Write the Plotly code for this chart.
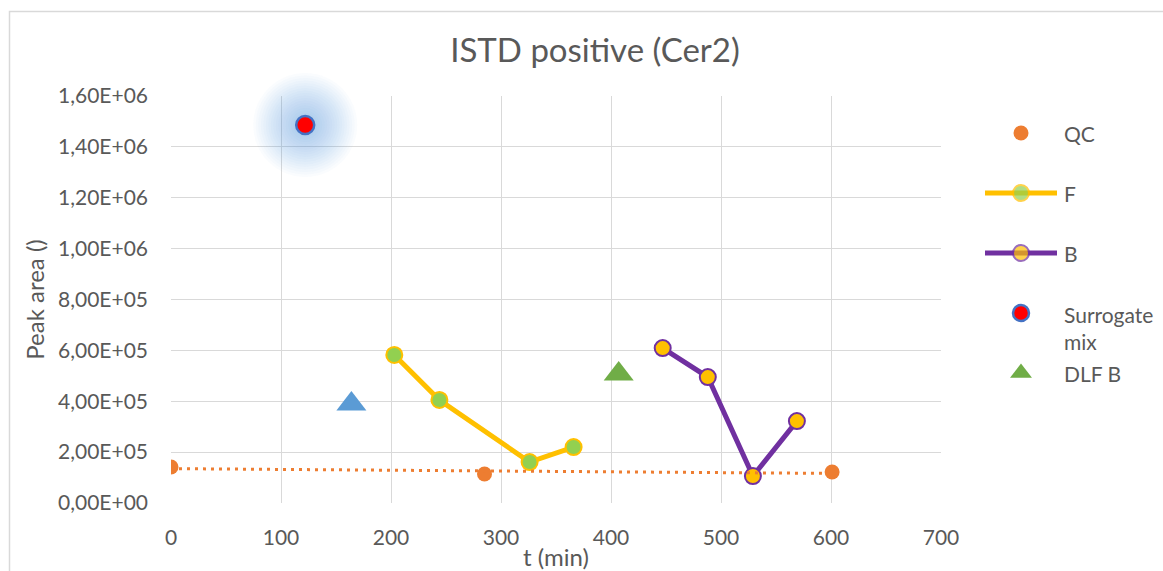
import numpy as np
import plotly.graph_objects as go

# ---- data -------------------------------------------------------------
qc_t = [0, 285, 601]
qc_area = [141500, 114000, 122000]

f_t = [203, 244, 326, 366]
f_area = [582000, 405000, 161000, 220000]

b_t = [447, 488, 529, 569]
b_area = [609000, 495000, 106000, 322000]

surrogate_t = [122]
surrogate_area = [1486000]

dlf_b_t = [407]
dlf_b_area = [507000]

dlf_f_t = [164]
dlf_f_area = [389000]

y_tickvals = [0, 200000, 400000, 600000, 800000, 1000000, 1200000, 1400000, 1600000]
y_ticktext = ["0,00E+00", "2,00E+05", "4,00E+05", "6,00E+05", "8,00E+05",
              "1,00E+06", "1,20E+06", "1,40E+06", "1,60E+06"]
x_tickvals = [0, 100, 200, 300, 400, 500, 600, 700]

legend_names = ["QC", "F", "B", "Surrogate<br>mix", "DLF B"]

# ---- styling ----------------------------------------------------------
FONT = "Lato"
TXT = "#595959"
GRID = "#d9d9d9"
ORANGE = "#ED7D31"
GOLD = "#FFC000"
LGREEN = "#92D050"
PURPLE = "#7030A0"
RED = "#FF0000"
BLUE = "#4472C4"
GLOW = "#5B9BD5"
GREEN = "#70AD47"

W, H = 1163, 571
ML, MR, MT, MB = 171, 0, 96, 68
PW = W - ML - MR
PLOT_RIGHT = 941
LEG_LEFT = 945

fig = go.Figure()

# QC samples
fig.add_trace(go.Scatter(x=qc_t, y=qc_area, mode="markers", name="QC",
                         marker=dict(color=ORANGE, size=15, line=dict(width=0)),
                         showlegend=False))

# F series
fig.add_trace(go.Scatter(x=f_t, y=f_area, mode="lines+markers", name="F",
                         line=dict(color=GOLD, width=5),
                         marker=dict(color=LGREEN, size=16, line=dict(color=GOLD, width=2)),
                         showlegend=False))

# B series
fig.add_trace(go.Scatter(x=b_t, y=b_area, mode="lines+markers", name="B",
                         line=dict(color=PURPLE, width=5),
                         marker=dict(color=GOLD, size=16, line=dict(color=PURPLE, width=2)),
                         showlegend=False))

# soft glow behind the surrogate mix point (stacked translucent discs)
for s in range(104, 18, -5):
    fig.add_trace(go.Scatter(x=surrogate_t, y=surrogate_area, mode="markers",
                             marker=dict(color=GLOW, size=s, opacity=0.028, line=dict(width=0)),
                             cliponaxis=False, hoverinfo="skip", showlegend=False))

fig.add_trace(go.Scatter(x=surrogate_t, y=surrogate_area, mode="markers", name="Surrogate mix",
                         marker=dict(color=RED, size=18, line=dict(color=BLUE, width=2.5)),
                         cliponaxis=False, showlegend=False))

# DLF points
fig.add_trace(go.Scatter(x=dlf_f_t, y=dlf_f_area, mode="markers", name="DLF F",
                         marker=dict(color=GLOW, size=26, symbol="triangle-up", line=dict(width=0)),
                         showlegend=False))
fig.add_trace(go.Scatter(x=dlf_b_t, y=dlf_b_area, mode="markers", name="DLF B",
                         marker=dict(color=GREEN, size=26, symbol="triangle-up", line=dict(width=0)),
                         showlegend=False))

# linear trend of QC
slope, icpt = np.polyfit(qc_t, qc_area, 1)
trend_x = np.array([min(qc_t), max(qc_t)])
fig.add_trace(go.Scatter(x=trend_x, y=icpt + slope * trend_x, mode="lines",
                         line=dict(color=ORANGE, width=3, dash="3px,5px"),
                         hoverinfo="skip", showlegend=False))

# ---- hand-built legend on a pixel-scaled overlay axis -------------------
leg_y = [133, 193, 253, 313, 373]
key_x = 1021
seg = (985, 1057)
text_x = 1062

fig.add_trace(go.Scatter(x=[key_x], y=[leg_y[0]], xaxis="x2", yaxis="y2", mode="markers",
                         marker=dict(color=ORANGE, size=15), hoverinfo="skip", showlegend=False))
fig.add_trace(go.Scatter(x=[seg[0], key_x, seg[1]], y=[leg_y[1]] * 3, xaxis="x2", yaxis="y2",
                         mode="lines+markers", line=dict(color=GOLD, width=5),
                         marker=dict(color=LGREEN, size=[0, 16, 0], line=dict(color=GOLD, width=[0, 2, 0])),
                         hoverinfo="skip", showlegend=False))
fig.add_trace(go.Scatter(x=[seg[0], key_x, seg[1]], y=[leg_y[2]] * 3, xaxis="x2", yaxis="y2",
                         mode="lines+markers", line=dict(color=PURPLE, width=5),
                         marker=dict(color=GOLD, size=[0, 16, 0], line=dict(color=PURPLE, width=[0, 2, 0])),
                         hoverinfo="skip", showlegend=False))
fig.add_trace(go.Scatter(x=[key_x], y=[leg_y[3]], xaxis="x2", yaxis="y2", mode="markers",
                         marker=dict(color=RED, size=16, line=dict(color=BLUE, width=2.5)),
                         hoverinfo="skip", showlegend=False))
fig.add_trace(go.Scatter(x=[key_x], y=[leg_y[4]], xaxis="x2", yaxis="y2", mode="markers",
                         marker=dict(color=GREEN, size=19, symbol="triangle-up"),
                         hoverinfo="skip", showlegend=False))

annotations = []
for name, yy in zip(legend_names, leg_y):
    annotations.append(dict(x=text_x, y=yy, xref="x2", yref="y2", text=name, showarrow=False,
                            xanchor="left", yanchor="top" if "<br>" in name else "middle",
                            yshift=13 if "<br>" in name else 0, align="left",
                            font=dict(family=FONT, size=21, color=TXT)))

fig.update_layout(
    width=W, height=H, autosize=False,
    margin=dict(l=ML, r=MR, t=MT, b=MB, pad=0, autoexpand=False),
    paper_bgcolor="white", plot_bgcolor="white",
    font=dict(family=FONT, color=TXT),
    title=dict(text="ISTD positive (Cer2)", x=595 / W, xref="container", xanchor="center",
               y=1 - 50 / H, yref="container", yanchor="middle",
               font=dict(family=FONT, size=33, color=TXT)),
    xaxis=dict(domain=[0, (PLOT_RIGHT - ML) / PW], range=[0, 700], tickvals=x_tickvals,
               showgrid=True, gridcolor=GRID, gridwidth=1, zeroline=False,
               showline=False, ticks="", ticklabelstandoff=20, automargin=False,
               tickfont=dict(family=FONT, size=21, color=TXT),
               title=dict(text="t (min)", standoff=4, font=dict(family=FONT, size=24, color=TXT))),
    yaxis=dict(range=[0, 1600000], tickvals=y_tickvals, ticktext=y_ticktext,
               showgrid=True, gridcolor=GRID, gridwidth=1, zeroline=False,
               showline=False, ticks="", ticklabelstandoff=22, automargin=False,
               tickfont=dict(family=FONT, size=21, color=TXT),
               title=dict(text="Peak area ()", standoff=6, font=dict(family=FONT, size=24, color=TXT))),
    xaxis2=dict(domain=[(LEG_LEFT - ML) / PW, 1], range=[LEG_LEFT, W], anchor="y2",
                visible=False, fixedrange=True, automargin=False),
    yaxis2=dict(domain=[0, 1], range=[H - MB, MT], anchor="x2",
                visible=False, fixedrange=True, automargin=False),
    annotations=annotations,
    shapes=[dict(type="rect", xref="paper", yref="paper",
                 x0=(9.5 - ML) / PW, x1=(W + 5 - ML) / PW,
                 y0=-(MB + 5) / (H - MT - MB), y1=(H - MB - 11.5) / (H - MT - MB),
                 line=dict(color=GRID, width=1.5), fillcolor="rgba(0,0,0,0)", layer="below")],
    showlegend=False,
)

fig.write_html("out.html", config={"responsive": False})
